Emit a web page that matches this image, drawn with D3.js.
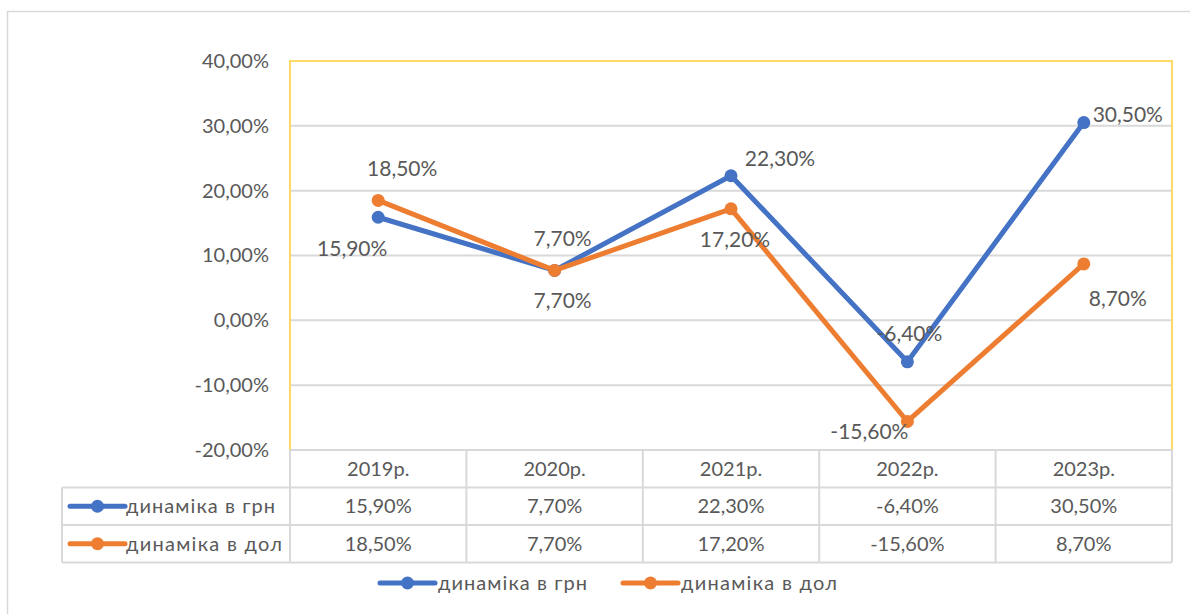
<!DOCTYPE html>
<html>
<head>
<meta charset="utf-8">
<script src="https://cdn.jsdelivr.net/npm/d3@7"></script>
<style>
  body { margin: 0; background: #fff; }
  text { font-family: Lato, "Open Sans", sans-serif; fill: #595959; }
</style>
</head>
<body>
<svg id="chart"></svg>
<script>
// Chart data
const years = ['2019р.', '2020р.', '2021р.', '2022р.', '2023р.'];
const uahValues = [15.9, 7.7, 22.3, -6.4, 30.5];
const usdValues = [18.5, 7.7, 17.2, -15.6, 8.7];
const seriesNames = ['динаміка в грн', 'динаміка в дол'];
const yTicks = [-20, -10, 0, 10, 20, 30, 40];

const width = 1190;
const height = 614;
const plot = { left: 290, right: 1172, top: 61, bottom: 450 };
const rowHeight = 37.5;
const keyLeft = 62;
const colors = ['#4472C4', '#ED7D31'];
const fontSize = 20;

const fmt = v => v.toFixed(2).replace('.', ',') + '%';

const svg = d3.select('#chart')
  .attr('width', width)
  .attr('height', height);

// outer frame
svg.append('rect')
  .attr('x', 7.5).attr('y', 11.5)
  .attr('width', width).attr('height', height)
  .attr('fill', 'none').attr('stroke', '#D9D9D9').attr('stroke-width', 1.5);

const xScale = d3.scaleBand()
  .domain(years)
  .range([plot.left, plot.right]);

const yScale = d3.scaleLinear()
  .domain([-20, 40])
  .range([plot.bottom, plot.top]);

// gridlines
svg.append('g')
  .selectAll('line')
  .data(yTicks)
  .join('line')
  .attr('x1', plot.left).attr('x2', plot.right)
  .attr('y1', d => yScale(d)).attr('y2', d => yScale(d))
  .attr('stroke', '#D9D9D9').attr('stroke-width', 2);

// y axis labels
svg.append('g')
  .attr('transform', `translate(${plot.left}, 0)`)
  .call(d3.axisLeft(yScale).tickValues(yTicks).tickFormat(fmt).tickSize(0).tickPadding(21))
  .call(g => g.select('.domain').remove())
  .call(g => g.selectAll('text')
    .style('font-family', 'Lato, "Open Sans", sans-serif')
    .attr('font-size', fontSize).attr('fill', '#595959'));

// plot area border (yellow)
svg.append('path')
  .attr('d', `M${plot.left},${plot.bottom}V${plot.top}H${plot.right}V${plot.bottom}`)
  .attr('fill', 'none').attr('stroke', '#FFD966').attr('stroke-width', 2);

// data table
const table = svg.append('g');
const tableBottom = plot.bottom + rowHeight * 3;
const gridColor = '#D9D9D9';

// horizontal lines of table
[0, 1, 2, 3].forEach(i => {
  const y = plot.bottom + rowHeight * i;
  table.append('line')
    .attr('x1', i === 0 ? plot.left : keyLeft).attr('x2', plot.right)
    .attr('y1', y).attr('y2', y)
    .attr('stroke', gridColor).attr('stroke-width', 2);
});
// vertical lines of table
years.forEach(y => {
  table.append('line')
    .attr('x1', xScale(y)).attr('x2', xScale(y))
    .attr('y1', plot.bottom).attr('y2', tableBottom)
    .attr('stroke', gridColor).attr('stroke-width', 2);
});
table.append('line')
  .attr('x1', plot.right).attr('x2', plot.right)
  .attr('y1', plot.bottom).attr('y2', tableBottom)
  .attr('stroke', gridColor).attr('stroke-width', 2);
table.append('line')
  .attr('x1', keyLeft).attr('x2', keyLeft)
  .attr('y1', plot.bottom + rowHeight).attr('y2', tableBottom)
  .attr('stroke', gridColor).attr('stroke-width', 2);

// header row
table.selectAll('.year')
  .data(years)
  .join('text')
  .attr('x', d => xScale(d) + xScale.bandwidth() / 2)
  .attr('y', plot.bottom + rowHeight / 2)
  .attr('dy', '0.35em')
  .attr('text-anchor', 'middle')
  .attr('font-size', fontSize)
  .text(d => d);

const allSeries = [uahValues, usdValues];

function legendKey(g, x, y, color) {
  g.append('line')
    .attr('x1', x).attr('x2', x + 55)
    .attr('y1', y).attr('y2', y)
    .attr('stroke', color).attr('stroke-width', 5).attr('stroke-linecap', 'round');
  g.append('circle')
    .attr('cx', x + 27.5).attr('cy', y).attr('r', 6.5)
    .attr('fill', color);
}

allSeries.forEach((vals, s) => {
  const cy = plot.bottom + rowHeight * (s + 1.5);
  legendKey(table, keyLeft + 8, cy, colors[s]);
  table.append('text')
    .attr('x', keyLeft + 64).attr('y', cy).attr('dy', '0.35em')
    .attr('font-size', fontSize)
    .attr('textLength', s === 0 ? 149 : 156)
    .text(seriesNames[s]);
  table.selectAll('.v' + s)
    .data(vals)
    .join('text')
    .attr('x', (d, i) => xScale(years[i]) + xScale.bandwidth() / 2)
    .attr('y', cy).attr('dy', '0.35em')
    .attr('text-anchor', 'middle')
    .attr('font-size', fontSize)
    .text(fmt);
});

// lines and markers
const line = d3.line()
  .x((d, i) => xScale(years[i]) + xScale.bandwidth() / 2)
  .y(d => yScale(d));

allSeries.forEach((vals, s) => {
  svg.append('path')
    .datum(vals)
    .attr('d', line)
    .attr('fill', 'none')
    .attr('stroke', colors[s])
    .attr('stroke-width', 5)
    .attr('stroke-linejoin', 'round');
  svg.append('g')
    .selectAll('circle')
    .data(vals)
    .join('circle')
    .attr('cx', (d, i) => xScale(years[i]) + xScale.bandwidth() / 2)
    .attr('cy', d => yScale(d))
    .attr('r', 6.5)
    .attr('fill', colors[s]);
});

// data label placement offsets (dx, dy) relative to each point
const labelOffsets = [
  [[-26, 31], [8, -32], [49, -17], [2, -28], [44, -8]],
  [[24, -32], [8, 30], [4, 31], [-38, 10], [34, 35]]
];

allSeries.forEach((vals, s) => {
  svg.append('g')
    .selectAll('text')
    .data(vals)
    .join('text')
    .attr('x', (d, i) => xScale(years[i]) + xScale.bandwidth() / 2 + labelOffsets[s][i][0])
    .attr('y', (d, i) => yScale(d) + labelOffsets[s][i][1])
    .attr('dy', '0.35em')
    .attr('text-anchor', 'middle')
    .attr('font-size', 21)
    .attr('fill', '#404040')
    .text(fmt);
});

// bottom legend
const legend = svg.append('g');
const legendItems = [380, 623];
legendItems.forEach((x, s) => {
  legendKey(legend, x, 583, colors[s]);
  legend.append('text')
    .attr('x', x + 58).attr('y', 583).attr('dy', '0.35em')
    .attr('font-size', fontSize)
    .attr('textLength', s === 0 ? 149 : 156)
    .text(seriesNames[s]);
});
</script>
</body>
</html>
